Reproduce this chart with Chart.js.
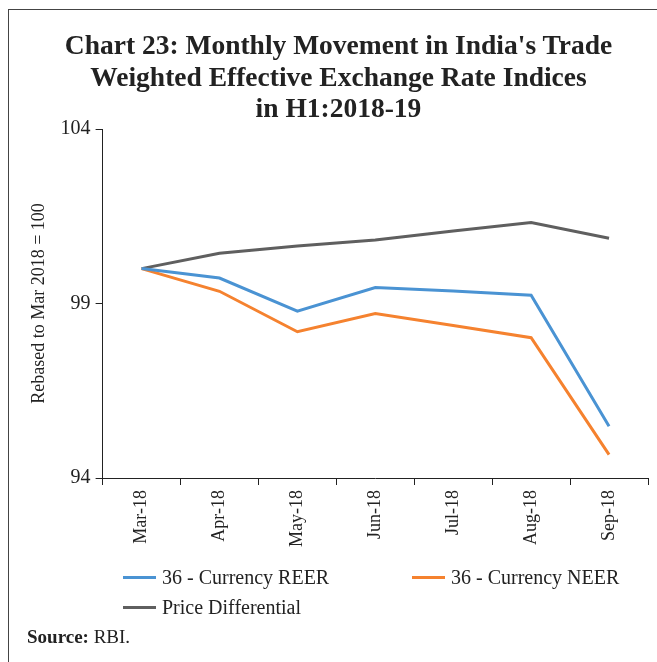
<!DOCTYPE html>
<html>
<head>
<meta charset="utf-8">
<script src="https://cdn.jsdelivr.net/npm/chart.js@4"></script>
<style>
  body { margin: 0; background: #fff; }
  #wrap { position: relative; width: 657px; height: 662px; overflow: hidden; }
  #frame { position: absolute; left: 8px; top: 9px; width: 700px; height: 700px; border-left: 1px solid #444; border-top: 1px solid #444; }
  #title { position: absolute; left: 0; width: 677px; top: 29px; text-align: center; font: bold 27.5px "Liberation Serif", serif; line-height: 31.5px; color: #222; }
  canvas { position: absolute; left: 0; top: 0; }
  .leg { position: absolute; font: 20px "Liberation Serif", serif; color: #222; white-space: nowrap; line-height: 24px; }
  .leg span { display: inline-block; width: 33px; height: 3px; vertical-align: middle; margin-right: 6px; position: relative; top: -2px; }
  #source { position: absolute; left: 27px; top: 626px; font: 19px "Liberation Serif", serif; color: #222; }
</style>
</head>
<body>
<div id="wrap">
  <div id="frame"></div>
  <canvas id="tweerChart" width="657" height="662"></canvas>
  <div id="title">Chart 23: Monthly Movement in India's Trade<br>Weighted Effective Exchange Rate Indices<br>in H1:2018-19</div>
  <div id="legend"></div>
  <div id="source"><b>Source:</b> RBI.</div>
</div>
<script>
var bulan = ['Mar-18', 'Apr-18', 'May-18', 'Jun-18', 'Jul-18', 'Aug-18', 'Sep-18']
var dataReer = [100.0, 99.73, 98.78, 99.46, 99.36, 99.24, 95.48]
var dataNeer = [100.0, 99.35, 98.19, 98.71, 98.37, 98.02, 94.67]
var dataPriceDiff = [100.0, 100.44, 100.65, 100.82, 101.08, 101.32, 100.87]
var yTicks = [94, 99, 104]

var ctx = document.getElementById('tweerChart').getContext('2d');
var chart = new Chart(ctx, {
  type: 'line',
  data: {
    labels: bulan,
    datasets: [
      { label: '36 - Currency REER', borderColor: '#4a93d3', backgroundColor: '#4a93d3', data: dataReer },
      { label: '36 - Currency NEER', borderColor: '#f5822f', backgroundColor: '#f5822f', data: dataNeer },
      { label: 'Price Differential', borderColor: '#5f5f5f', backgroundColor: '#5f5f5f', data: dataPriceDiff }
    ]
  },
  options: {
    responsive: false,
    animation: false,
    layout: { padding: { left: 28, right: 9, top: 129, bottom: 110 } },
    elements: {
      point: { radius: 0 },
      line: { borderWidth: 3, tension: 0 }
    },
    plugins: {
      legend: { display: false },
      title: { display: false },
      tooltip: { enabled: false }
    },
    scales: {
      x: {
        offset: true,
        grid: { offset: true, drawOnChartArea: false, tickLength: 7, color: '#222' },
        border: { color: '#222', width: 1 },
        ticks: {
          minRotation: 90, maxRotation: 90, color: '#222', padding: 5,
          font: { family: 'Liberation Serif', size: 18 }
        }
      },
      y: {
        min: 94, max: 104,
        afterBuildTicks: (axis) => { axis.ticks = yTicks.map(v => ({ value: v })) },
        grid: { drawOnChartArea: false, tickLength: 7, color: '#222' },
        border: { color: '#222', width: 1 },
        ticks: {
          color: '#222', padding: 5,
          font: { family: 'Liberation Serif', size: 20 }
        },
        title: {
          display: true, text: 'Rebased to Mar 2018 = 100', color: '#222',
          font: { family: 'Liberation Serif', size: 18 }, padding: { top: 0, bottom: 6 }
        }
      }
    }
  }
});

// legend dari dataset chart
var pos = [[123, 565], [412, 565], [123, 595]]
var legendEl = document.getElementById('legend')
chart.data.datasets.forEach((ds, i) => {
  var d = document.createElement('div')
  d.className = 'leg'
  d.style.left = pos[i][0] + 'px'
  d.style.top = pos[i][1] + 'px'
  d.innerHTML = '<span style="background:' + ds.borderColor + '"></span>' + ds.label
  legendEl.appendChild(d)
})
</script>
</body>
</html>
